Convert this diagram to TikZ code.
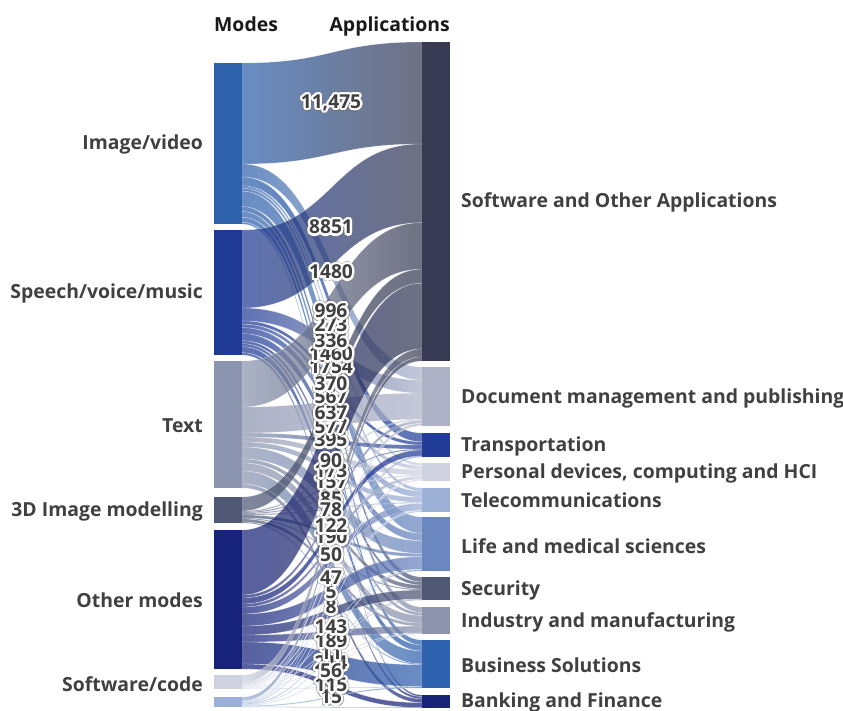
\documentclass[tikz,border=0pt]{standalone}
\usepackage{fontspec}
\setmainfont{Open Sans}
\begin{document}
\definecolor{cI}{HTML}{2E61AC}
\definecolor{cS}{HTML}{1F3A94}
\definecolor{cT}{HTML}{8C95B0}
\definecolor{cD}{HTML}{4E5875}
\definecolor{cO}{HTML}{17227A}
\definecolor{cC}{HTML}{CDD1E0}
\definecolor{cX}{HTML}{9BB0D8}
\definecolor{tSW}{HTML}{363A52}
\definecolor{tDM}{HTML}{ADB2C7}
\definecolor{tTR}{HTML}{213D98}
\definecolor{tPD}{HTML}{CFD3E1}
\definecolor{tTE}{HTML}{9DB1D7}
\definecolor{tLM}{HTML}{6A87BF}
\definecolor{tSE}{HTML}{4E5774}
\definecolor{tIN}{HTML}{8B93AD}
\definecolor{tBS}{HTML}{2F62AE}
\definecolor{tBF}{HTML}{192378}
\definecolor{labtext}{HTML}{404040}
\tikzset{
  flowband/.style={fill opacity=0.72, draw=white, draw opacity=0.45, line width=0.35pt},
  barnode/.style={rectangle, inner sep=0pt, outer sep=0pt, minimum width=28pt, anchor=north west},
  sidelab/.style={font=\fontsize{19.4}{22}\selectfont\bfseries, text=labtext, inner sep=0pt},
  hdrlab/.style={font=\fontsize{19.4}{22}\selectfont\bfseries, text=black!90, inner sep=0pt},
  vtext/.style={font=\fontsize{19.2}{22}\selectfont\bfseries, text=labtext, inner sep=0pt}
}
\newcommand\vlab[3]{%
  \foreach \ang in {0,30,...,330}{\node[vtext,text=black!55,text opacity=0.6,xshift={3pt*cos(\ang)},yshift={3pt*sin(\ang)}] (#1g\ang) at (331,#2) {#3};}
  \foreach \ang in {0,30,...,330}{\node[vtext,text=white,xshift={2.3pt*cos(\ang)},yshift={2.3pt*sin(\ang)}] (#1h\ang) at (331,#2) {#3};}
  \node[vtext] (#1) at (331,#2) {#3};}
\begin{tikzpicture}[x=1pt,y=-1pt]
\useasboundingbox (0,0) rectangle (843,710);
\def\srcspec{I/63/161,S/230/125,T/361/127,D/497/26,O/530/139,C/675/14,X/697/10}
\def\tgtspec{SW/42/319,DM/367/59,TR/433/24,PD/463/18,TE/488/24,LM/517/54,SE/577/23,IN/607/27,BS/640/48,BF/695/13}
\def\flows{I/SW/101,I/DM/13,I/TR/8.8,I/PD/2.4,I/TE/3,I/LM/15.4,I/SE/5,I/IN/5.6,I/BS/5.1,I/BF/1.7,
S/SW/78,S/DM/12.9,S/TR/3.3,S/PD/3.5,S/TE/6,S/LM/7,S/SE/3,S/IN/3,S/BS/6,S/BF/2.3,
T/SW/46,T/DM/26,T/TR/4,T/PD/5,T/TE/5,T/LM/12,T/SE/4,T/IN/8,T/BS/13,T/BF/4,
D/SW/14,D/DM/1,D/TR/1,D/PD/1,D/TE/1,D/LM/3,D/SE/1,D/IN/3,D/BS/1,
O/SW/65,O/DM/3,O/TR/6,O/PD/3,O/TE/7,O/LM/12,O/SE/9,O/IN/7,O/BS/22,O/BF/5,
C/SW/8,C/DM/2,C/TR/0.5,C/PD/1,C/TE/0.5,C/LM/0.5,C/SE/0.5,C/IN/0.5,C/BS/0.5,
X/SW/4,X/DM/0.5,X/TR/0.5,X/PD/0.5,X/TE/1,X/LM/1,X/SE/0.5,X/IN/0.5,X/BS/1,X/BF/0.5}
% init
\foreach \n/\y/\h in \srcspec {\expandafter\xdef\csname zsum\n\endcsname{0}\expandafter\xdef\csname zpos\n\endcsname{\y}}
\foreach \n/\y/\h in \tgtspec {\expandafter\xdef\csname zsum\n\endcsname{0}\expandafter\xdef\csname zpos\n\endcsname{\y}}
% sums
\foreach \fs/\ft/\fv in \flows {
  \edef\zz{\csname zsum\fs\endcsname}\pgfmathparse{\zz+\fv}\expandafter\xdef\csname zsum\fs\endcsname{\pgfmathresult}
  \edef\zz{\csname zsum\ft\endcsname}\pgfmathparse{\zz+\fv}\expandafter\xdef\csname zsum\ft\endcsname{\pgfmathresult}
}
\foreach \n/\y/\h in \srcspec {\edef\zz{\csname zsum\n\endcsname}\pgfmathparse{\h/\zz}\expandafter\xdef\csname zk\n\endcsname{\pgfmathresult}}
\foreach \n/\y/\h in \tgtspec {\edef\zz{\csname zsum\n\endcsname}\pgfmathparse{\h/\zz}\expandafter\xdef\csname zk\n\endcsname{\pgfmathresult}}
% flows
\foreach \fs/\ft/\fv in \flows {
  \edef\ya{\csname zpos\fs\endcsname}
  \edef\yb{\csname zpos\ft\endcsname}
  \edef\ka{\csname zk\fs\endcsname}
  \edef\kb{\csname zk\ft\endcsname}
  \pgfmathsetmacro\yc{\ya+\fv*\ka}
  \pgfmathsetmacro\yd{\yb+\fv*\kb}
  \path[flowband, left color=c\fs, right color=t\ft] (242,\ya) .. controls (332,\ya) and (332,\yb) .. (422,\yb) -- (422,\yd) .. controls (332,\yd) and (332,\yc) .. (242,\yc) -- cycle;
  \expandafter\xdef\csname zpos\fs\endcsname{\yc}
  \expandafter\xdef\csname zpos\ft\endcsname{\yd}
}
% bars
\foreach \n/\y/\h in \srcspec {\node[barnode, fill=c\n, minimum height=\h pt] (src\n) at (214,\y) {};}
\foreach \n/\y/\h in \tgtspec {\node[barnode, fill=t\n, minimum height=\h pt] (tgt\n) at (422,\y) {};}
% headers
\node[hdrlab, anchor=base west] (hmodes) at (214,31) {Modes};
\node[hdrlab, anchor=base east] (happs) at (450,31) {Applications};
% side labels
\node[sidelab, anchor=east] (lI) at (203,144.5) {Image/video};
\node[sidelab, anchor=east] (lS) at (203,293.5) {Speech/voice/music};
\node[sidelab, anchor=east] (lT) at (203,426) {Text};
\node[sidelab, anchor=east] (lD) at (203,511) {3D Image modelling};
\node[sidelab, anchor=east] (lO) at (203,600.5) {Other modes};
\node[sidelab, anchor=east] (lC) at (203,684) {Software/code};
\node[sidelab, anchor=west] (rSW) at (461,202.5) {Software and Other Applications};
\node[sidelab, anchor=west] (rDM) at (461,398) {Document management and publishing};
\node[sidelab, anchor=west] (rTR) at (461,446) {Transportation};
\node[sidelab, anchor=west] (rPD) at (461,473) {Personal devices, computing and HCI};
\node[sidelab, anchor=west] (rTE) at (461,500) {Telecommunications};
\node[sidelab, anchor=west] (rLM) at (461,546) {Life and medical sciences};
\node[sidelab, anchor=west] (rSE) at (461,590.5) {Security};
\node[sidelab, anchor=west] (rIN) at (461,622) {Industry and manufacturing};
\node[sidelab, anchor=west] (rBS) at (461,665.5) {Business Solutions};
\node[sidelab, anchor=west] (rBF) at (461,702.5) {Banking and Finance};
% value labels (bottom first)
\vlab{v15}{697}{15}
\vlab{v115}{685}{115}
\vlab{v214}{663}{214}
\vlab{v56}{671}{56}
\vlab{v11}{653}{11}
\vlab{v189}{641}{189}
\vlab{v143}{627}{143}
\vlab{v8}{607}{8}
\vlab{v5}{592}{5}
\vlab{v47}{578}{47}
\vlab{v50}{555}{50}
\vlab{v190}{537}{190}
\vlab{v122}{526}{122}
\vlab{v85}{499}{85}
\vlab{v78}{510}{78}
\vlab{v157}{482}{157}
\vlab{v173}{471}{173}
\vlab{v90}{461}{90}
\vlab{v395}{440}{395}
\vlab{v577}{427}{577}
\vlab{v637}{413}{637}
\vlab{v567}{397}{567}
\vlab{v370}{384}{370}
\vlab{v1754}{367}{1754}
\vlab{v1460}{354}{1460}
\vlab{v336}{341}{336}
\vlab{v273}{325}{273}
\vlab{v996}{311}{996}
\vlab{v1480}{272}{1480}
\vlab{v8851}{227}{8851}
\vlab{v11475}{103}{11,475}
\end{tikzpicture}
\end{document}
